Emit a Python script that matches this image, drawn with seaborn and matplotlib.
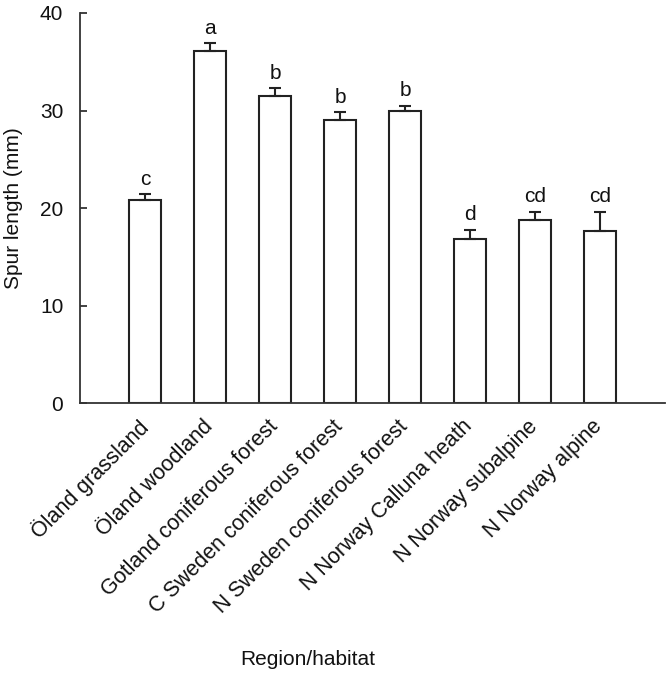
import numpy as np
import pandas as pd
import matplotlib
matplotlib.use('Agg')
import matplotlib.pyplot as plt
import matplotlib.transforms as mtransforms
import seaborn as sns

# Data
habitats = ['Öland grassland', 'Öland woodland', 'Gotland coniferous forest',
            'C Sweden coniferous forest', 'N Sweden coniferous forest',
            'N Norway Calluna heath', 'N Norway subalpine', 'N Norway alpine']
spur_mean = [20.8, 36.1, 31.5, 29.0, 29.9, 16.8, 18.8, 17.7]
spur_se = [0.6, 0.8, 0.8, 0.8, 0.6, 1.0, 0.8, 1.9]
letters = ['c', 'a', 'b', 'b', 'b', 'd', 'cd', 'cd']

df = pd.DataFrame({'habitat': habitats, 'spur': spur_mean})

sns.set_style('ticks')
plt.rcParams['font.family'] = ['Liberation Sans', 'DejaVu Sans']
plt.rcParams['axes.linewidth'] = 1.3

fig = plt.figure(figsize=(6.66, 6.8), dpi=100)
ax = fig.add_axes([0.120, 0.407, 0.8785, 0.574])

sns.barplot(data=df, x='habitat', y='spur', color='white', edgecolor='#222222',
            linewidth=1.5, width=0.5, saturation=1, errorbar=None, ax=ax)

xpos = np.arange(len(habitats))
ax.errorbar(xpos, spur_mean, yerr=[np.zeros(len(spur_se)), spur_se], fmt='none',
            ecolor='#222222', elinewidth=1.5, capsize=4.5, capthick=1.5)

for x, m, e, lab in zip(xpos, spur_mean, spur_se, letters):
    ax.annotate(lab, (x, m + e), xytext=(0, 4), textcoords='offset points',
                ha='center', va='bottom', fontsize=15, color='#111111')

ax.set_xlim(-1, 8)
ax.set_ylim(0, 40)
ax.set_yticks([0, 10, 20, 30, 40])
ax.tick_params(axis='both', direction='in', length=5, width=1.3, colors='#333333',
               labelcolor='#111111', labelsize=15)
ax.tick_params(axis='y', pad=12)
ax.set_xticks(xpos)
ax.set_xticklabels(habitats, rotation=45, ha='right', va='top',
                   rotation_mode='anchor', fontsize=15.5)
ax.tick_params(axis='x', pad=9)
# nudge the rotated labels a little to the left
shift = mtransforms.ScaledTranslation(-0.08, 0, fig.dpi_scale_trans)
for lab in ax.get_xticklabels():
    lab.set_transform(lab.get_transform() + shift)
sns.despine(ax=ax)
for s in ['left', 'bottom']:
    ax.spines[s].set_color('#333333')

ax.set_ylabel('Spur length (mm)', fontsize=15, color='#111111')
ax.yaxis.set_label_coords(-0.097, 0.5)
ax.set_xlabel('Region/habitat', fontsize=15, color='#111111')
ax.xaxis.set_label_coords(0.39, -0.632)

fig.savefig('out.png', dpi=100, facecolor='white')
